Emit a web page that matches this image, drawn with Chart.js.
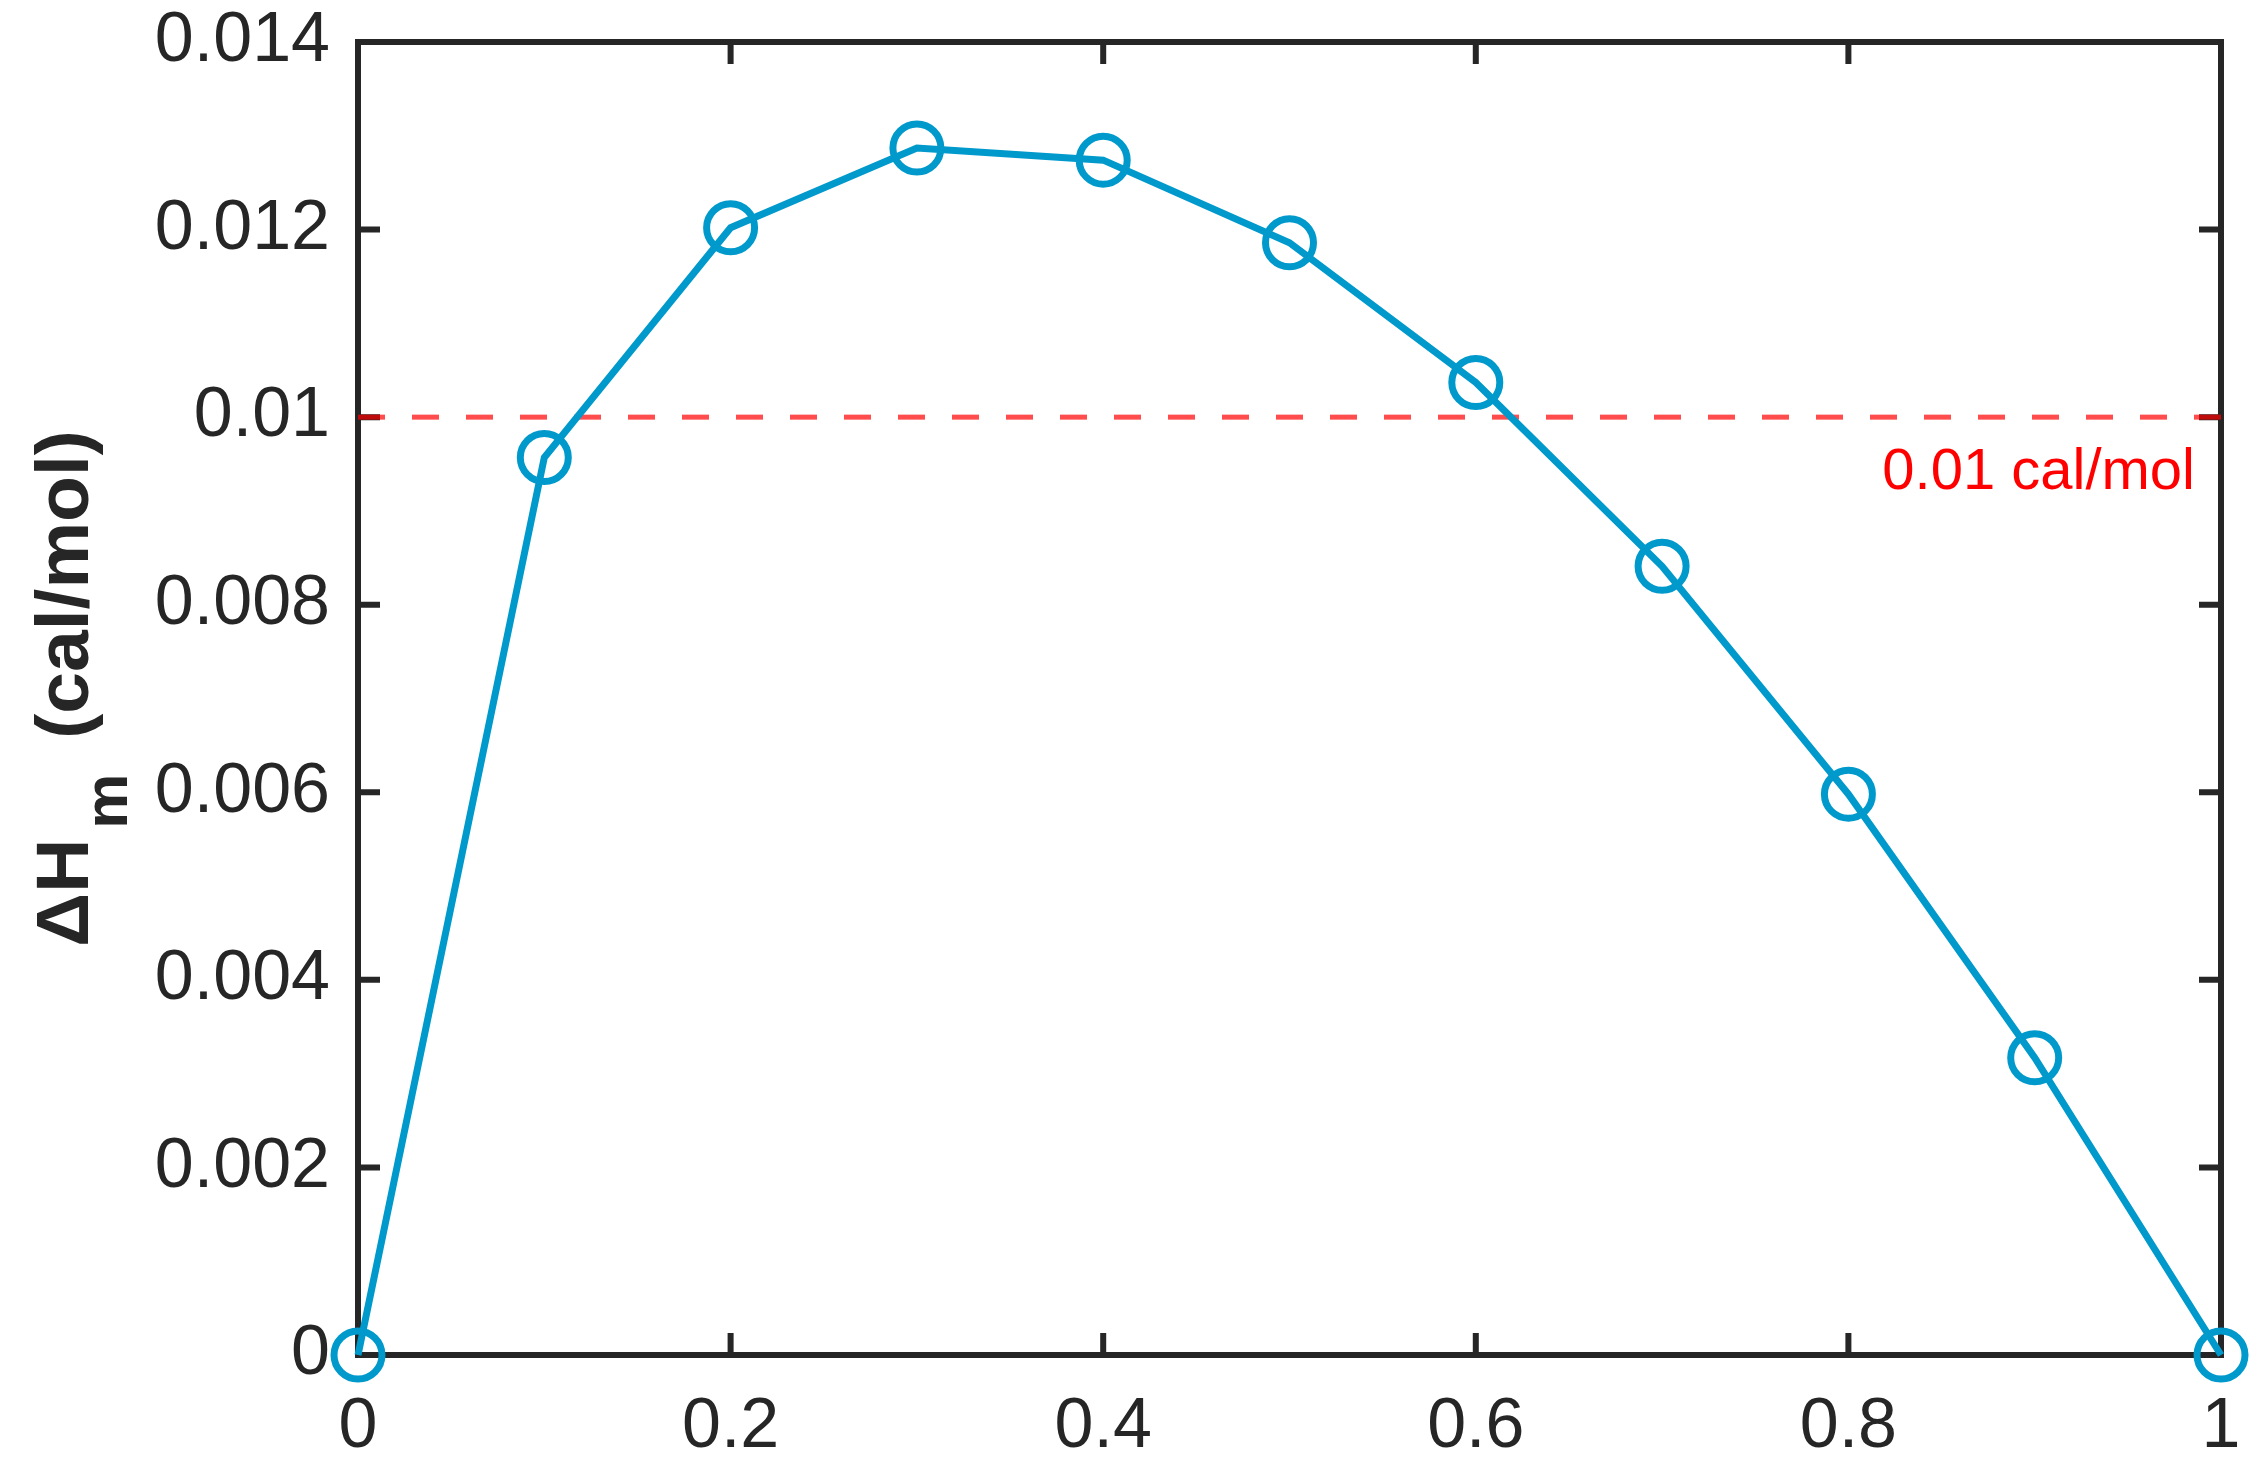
<!DOCTYPE html>
<html>
<head>
<meta charset="utf-8">
<script src="https://cdn.jsdelivr.net/npm/chart.js@4.4.1/dist/chart.umd.min.js"></script>
<style>
  html, body { margin: 0; padding: 0; background: #fff; }
  #wrap { width: 2267px; height: 1484px; }
</style>
</head>
<body>
<div id="wrap"><canvas id="enthalpyChart" width="2267" height="1484"></canvas></div>
<script>
// values
const moleFraction = [0, 0.1, 0.2, 0.3, 0.4, 0.5, 0.6, 0.7, 0.8, 0.9, 1];
const deltaH = [0, 0.00957, 0.01202, 0.01287, 0.01274, 0.01186, 0.01037, 0.00841, 0.00598, 0.00317, 0];

const thresholdValue = 0.01;
const thresholdLabel = '0.01 cal/mol';

const xTickValues = [0, 0.2, 0.4, 0.6, 0.8, 1];
const xTickLabels = ['0', '0.2', '0.4', '0.6', '0.8', '1'];
const yTickValues = [0, 0.002, 0.004, 0.006, 0.008, 0.01, 0.012, 0.014];
const yTickLabels = ['0', '0.002', '0.004', '0.006', '0.008', '0.01', '0.012', '0.014'];

const axisColor = '#262626';
const curveColor = '#0099cc';
const fontFamily = '"Liberation Sans", Arial, sans-serif';

// keep the plot box where the figure has it, labels may hang outside
function noScalePadding(scale) {
    scale.paddingTop = 0;
    scale.paddingBottom = 0;
    scale.paddingLeft = 0;
    scale.paddingRight = 0;
}

// MATLAB style box with inward ticks on all four sides
const boxAxes = {
    id: 'boxAxes',
    beforeDatasetsDraw(chart) {
        const { ctx, chartArea: a, scales } = chart;
        const tick = 22;
        ctx.save();
        ctx.strokeStyle = axisColor;
        ctx.lineWidth = 6;
        ctx.lineCap = 'butt';
        ctx.beginPath();
        xTickValues.forEach(v => {
            const px = scales.x.getPixelForValue(v);
            ctx.moveTo(px, a.bottom); ctx.lineTo(px, a.bottom - tick);
            ctx.moveTo(px, a.top); ctx.lineTo(px, a.top + tick);
        });
        yTickValues.forEach(v => {
            const py = scales.y.getPixelForValue(v);
            ctx.moveTo(a.left, py); ctx.lineTo(a.left + tick, py);
            ctx.moveTo(a.right, py); ctx.lineTo(a.right - tick, py);
        });
        ctx.stroke();
        ctx.strokeRect(a.left, a.top, a.right - a.left, a.bottom - a.top);
        ctx.restore();
    },
    afterDraw(chart) {
        const { ctx, chartArea: a, scales } = chart;
        ctx.save();
        // threshold note
        ctx.font = '58px ' + fontFamily;
        ctx.fillStyle = '#ff0000';
        ctx.textAlign = 'right';
        ctx.textBaseline = 'alphabetic';
        ctx.fillText(thresholdLabel, a.right - 26, scales.y.getPixelForValue(thresholdValue) + 72);

        // y axis title with subscript
        const mainFont = 'bold 75px ' + fontFamily;
        const subFont = 'bold 62px ' + fontFamily;
        const gapH = 10, gapM = 14;
        ctx.font = mainFont;
        const w1 = ctx.measureText('\u0394H').width;
        const w3 = ctx.measureText(' (cal/mol)').width;
        ctx.font = subFont;
        const w2 = ctx.measureText('m').width;
        const total = w1 + gapH + w2 + gapM + w3;
        ctx.translate(88, (a.top + a.bottom) / 2 - 10);
        ctx.rotate(-Math.PI / 2);
        ctx.fillStyle = axisColor;
        ctx.textAlign = 'left';
        let x = -total / 2;
        ctx.font = mainFont;
        ctx.fillText('\u0394H', x, 0);
        x += w1 + gapH;
        ctx.font = subFont;
        ctx.fillText('m', x, 39);
        x += w2 + gapM;
        ctx.font = mainFont;
        ctx.fillText(' (cal/mol)', x, 0);
        ctx.restore();
    }
};

const ctx = document.getElementById('enthalpyChart').getContext('2d');

const enthalpyChart = new Chart(ctx, {
    type: 'line',
    data: {
        datasets: [
            {
                label: 'ΔHm',
                data: moleFraction.map((x, i) => ({ x: x, y: deltaH[i] })),
                borderColor: curveColor,
                borderWidth: 7,
                pointRadius: 24,
                pointBorderWidth: 7,
                pointBorderColor: curveColor,
                pointBackgroundColor: 'rgba(0,0,0,0)',
                tension: 0,
                clip: false
            },
            {
                label: thresholdLabel,
                data: [{ x: 0, y: thresholdValue }, { x: 1, y: thresholdValue }],
                borderColor: 'rgba(255, 0, 0, 0.7)',
                borderWidth: 5,
                borderDash: [27, 27],
                pointRadius: 0,
                clip: false
            }
        ]
    },
    options: {
        responsive: false,
        devicePixelRatio: 1,
        animation: false,
        layout: { padding: { top: 42, right: 46, left: 0, bottom: 0 } },
        plugins: {
            legend: { display: false },
            tooltip: { enabled: false }
        },
        scales: {
            x: {
                type: 'linear',
                min: 0,
                max: 1,
                afterBuildTicks: scale => { scale.ticks = xTickValues.map(v => ({ value: v })); },
                afterFit: scale => { scale.height = 129; noScalePadding(scale); },
                grid: { display: false },
                border: { display: false },
                ticks: {
                    autoSkip: false,
                    maxRotation: 0,
                    padding: 23,
                    color: axisColor,
                    font: { family: fontFamily, size: 70 },
                    callback: (value, index) => xTickLabels[index]
                }
            },
            y: {
                type: 'linear',
                min: 0,
                max: 0.014,
                afterBuildTicks: scale => { scale.ticks = yTickValues.map(v => ({ value: v })); },
                afterFit: scale => { scale.width = 358; noScalePadding(scale); },
                grid: { display: false },
                border: { display: false },
                ticks: {
                    autoSkip: false,
                    padding: 20,
                    color: axisColor,
                    font: { family: fontFamily, size: 70 },
                    callback: (value, index) => yTickLabels[index]
                }
            }
        }
    },
    plugins: [boxAxes]
});
</script>
</body>
</html>
